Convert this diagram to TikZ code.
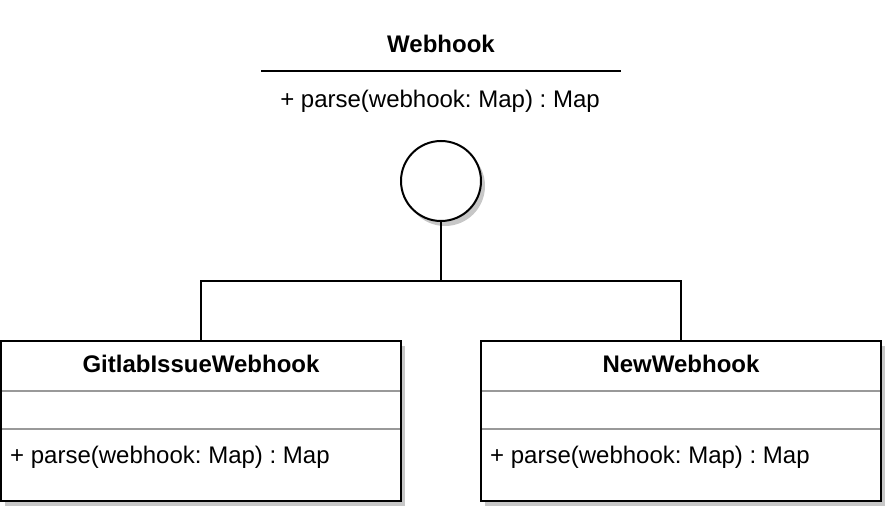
\documentclass[tikz,border=0pt]{standalone}
\usepackage{fontspec}
\setmainfont{Liberation Sans}
\usetikzlibrary{shadows}
\frenchspacing
\tikzset{
  umlshadow/.style = {drop shadow={shadow xshift=4pt, shadow yshift=-5pt,
    fill=black!22, opacity=1}},
  umlbox/.style = {draw=black, line width=2pt, fill=white, inner sep=0pt,
    minimum width=400pt, minimum height=160pt, umlshadow},
  umltitle/.style = {font=\fontsize{24}{28}\selectfont\bfseries},
  umltext/.style = {font=\fontsize{24}{28}\selectfont},
  divider/.style = {draw=black!40, line width=2pt},
  conn/.style = {draw=black, line width=2pt}
}

\begin{document}
\begin{tikzpicture}[x=1pt, y=-1pt]
\useasboundingbox (0,0) rectangle (886,508);
% interface
\node [umltitle] (iface) at (441,44) {Webhook};
\draw [conn] (261,71) -- (621,71);
\node [umltext] (ifacemeth) at (440,101) {+ parse(webhook: Map) : Map};
\node [circle, draw=black, line width=2pt, fill=white, inner sep=0pt,
  minimum size=80pt, umlshadow] (lollipop) at (441,181) {};
\coordinate (fork) at (441,281);
% implementations
\node [umlbox] (gitlab) at (201,421) {};
\node [umlbox] (newhook) at (681,421) {};
\draw [conn] (lollipop) -- (fork);
\draw [conn] (fork) -| (gitlab.north);
\draw [conn] (fork) -| (newhook.north);
\node [umltitle] (gitlabname) at (201,364) {GitlabIssueWebhook};
\node [umltitle] (newhookname) at (681,364) {NewWebhook};
\draw [divider] (2,391) -- (400,391);
\draw [divider] (2,429) -- (400,429);
\draw [divider] (482,391) -- (880,391);
\draw [divider] (482,429) -- (880,429);
\node [umltext, anchor=west, inner sep=0pt] (gitlabmeth) at (10,457) {+ parse(webhook: Map) : Map};
\node [umltext, anchor=west, inner sep=0pt] (newhookmeth) at (490,457) {+ parse(webhook: Map) : Map};
\end{tikzpicture}
\end{document}
